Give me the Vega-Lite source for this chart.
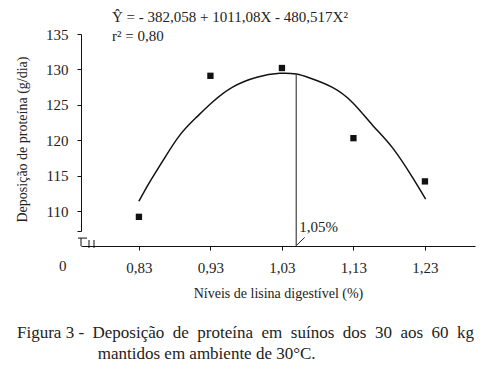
{
  "$schema": "https://vega.github.io/schema/vega-lite/v6.json",
  "width": 394,
  "height": 197,
  "autosize": "none",
  "padding": {"left": 81, "top": 34, "right": 9, "bottom": 145},
  "background": "white",
  "config": {
    "font": "Liberation Serif, Times New Roman, serif",
    "view": {"stroke": null},
    "text": {"font": "Liberation Serif, Times New Roman, serif"},
    "axis": {
      "grid": false,
      "domainColor": "#111",
      "tickColor": "#111",
      "labelColor": "#222",
      "titleColor": "#222",
      "labelFont": "Liberation Serif, Times New Roman, serif",
      "titleFont": "Liberation Serif, Times New Roman, serif",
      "labelFontSize": 15,
      "titleFontSize": 14,
      "titleFontWeight": "normal",
      "labelOverlap": false,
      "tickSize": 4
    }
  },
  "title": {
    "text": ["Figura 3 -  \u00a0Deposição \u00a0de \u00a0proteína \u00a0em \u00a0suínos \u00a0dos \u00a030 \u00a0aos \u00a060 \u00a0kg", "\u200b\u00a0\u00a0\u00a0\u00a0\u00a0\u00a0\u00a0\u00a0\u00a0\u00a0\u00a0\u00a0\u00a0\u00a0\u00a0\u00a0\u00a0\u00a0\u00a0mantidos em ambiente de 30°C."],
    "orient": "bottom",
    "anchor": "start",
    "frame": "group",
    "dx": -64,
    "offset": 25,
    "fontSize": 17,
    "fontWeight": "normal",
    "font": "Liberation Serif, Times New Roman, serif",
    "color": "#222",
    "lineHeight": 21
  },
  "datasets": {
    "ajuste": [
      {"lisina": 0.83, "deposicao": 111.4},
      {"lisina": 0.845, "deposicao": 114.1},
      {"lisina": 0.864, "deposicao": 117.2},
      {"lisina": 0.887, "deposicao": 120.7},
      {"lisina": 0.911, "deposicao": 123.3},
      {"lisina": 0.933, "deposicao": 125.4},
      {"lisina": 0.961, "deposicao": 127.5},
      {"lisina": 0.995, "deposicao": 128.9},
      {"lisina": 1.027, "deposicao": 129.45},
      {"lisina": 1.05, "deposicao": 129.35},
      {"lisina": 1.069, "deposicao": 128.8},
      {"lisina": 1.1, "deposicao": 127.5},
      {"lisina": 1.129, "deposicao": 125.3},
      {"lisina": 1.157, "deposicao": 122.1},
      {"lisina": 1.185, "deposicao": 118.9},
      {"lisina": 1.213, "deposicao": 114.7},
      {"lisina": 1.231, "deposicao": 111.7}
    ],
    "observado": [
      {"lisina": 0.83, "deposicao": 109.2},
      {"lisina": 0.93, "deposicao": 129.1},
      {"lisina": 1.03, "deposicao": 130.2},
      {"lisina": 1.13, "deposicao": 120.3},
      {"lisina": 1.23, "deposicao": 114.2}
    ],
    "otimo": [
      {"lisina": 1.05, "deposicao": 129.35, "rotulo": "1,05%"}
    ],
    "unico": [{}]
  },
  "layer": [
    {
      "data": {"name": "ajuste"},
      "mark": {"type": "line", "color": "#111", "strokeWidth": 1.5, "interpolate": "natural"},
      "encoding": {
        "x": {
          "field": "lisina",
          "type": "quantitative",
          "scale": {"domain": [0.749, 1.3], "nice": false, "zero": false},
          "axis": {
            "values": [0.83, 0.93, 1.03, 1.13, 1.23],
            "tickCount": 20,
            "labelExpr": "replace(format(datum.value, '.2f'), '.', ',')",
            "labelOverlap": false,
            "offset": 15,
            "labelPadding": 10,
            "title": "Níveis de lisina digestível (%)",
            "titlePadding": 11
          }
        },
        "y": {
          "field": "deposicao",
          "type": "quantitative",
          "scale": {"domain": [107.2, 135], "nice": false, "zero": false},
          "axis": {
            "values": [107.2, 110, 115, 120, 125, 130, 135],
            "tickCount": 20,
            "labelExpr": "datum.value < 109 ? '' : datum.label",
            "labelOverlap": false,
            "labelPadding": 9,
            "title": "Deposição de proteína (g/dia)",
            "titlePadding": 16,
            "titleY": 105
          }
        }
      }
    },
    {
      "data": {"name": "observado"},
      "mark": {"type": "square", "filled": true, "color": "#111", "size": 40, "opacity": 1},
      "encoding": {
        "x": {"field": "lisina", "type": "quantitative"},
        "y": {"field": "deposicao", "type": "quantitative"}
      }
    },
    {
      "data": {"name": "otimo"},
      "mark": {"type": "rule", "color": "#444", "strokeWidth": 1.2},
      "encoding": {
        "x": {"field": "lisina", "type": "quantitative"},
        "y": {"field": "deposicao", "type": "quantitative"},
        "y2": {"datum": 105.06}
      }
    },
    {
      "data": {"name": "otimo"},
      "mark": {"type": "text", "align": "left", "baseline": "middle", "fontSize": 15, "color": "#222", "dx": 3},
      "encoding": {
        "x": {"field": "lisina", "type": "quantitative"},
        "y": {"datum": 107.76},
        "text": {"field": "rotulo"}
      }
    },
    {
      "data": {"name": "unico"},
      "mark": {"type": "rule", "color": "#222", "strokeWidth": 1},
      "encoding": {
        "x": {"datum": 1.0507},
        "x2": {"datum": 1.0618},
        "y": {"datum": 105.2},
        "y2": {"datum": 106.3}
      }
    },
    {
      "data": {"name": "unico"},
      "mark": {"type": "text", "align": "left", "baseline": "middle", "fontSize": 15, "color": "#222"},
      "encoding": {
        "x": {"datum": 0.7924},
        "y": {"datum": 137.4},
        "text": {"value": "Ŷ = - 382,058 + 1011,08X - 480,517X²"}
      }
    },
    {
      "data": {"name": "unico"},
      "mark": {"type": "text", "align": "left", "baseline": "middle", "fontSize": 15, "color": "#222"},
      "encoding": {
        "x": {"datum": 0.7924},
        "y": {"datum": 134.7},
        "text": {"value": "r² = 0,80"}
      }
    },
    {
      "data": {"name": "unico"},
      "mark": {"type": "text", "align": "center", "baseline": "middle", "fontSize": 15, "color": "#222"},
      "encoding": {
        "x": {"datum": 0.7234},
        "y": {"datum": 102.26},
        "text": {"value": "0"}
      }
    },
    {
      "data": {"name": "unico"},
      "mark": {"type": "rule", "color": "#111", "strokeWidth": 1},
      "encoding": {
        "x": {"datum": 0.749},
        "y": {"datum": 106.2},
        "y2": {"datum": 105.06}
      }
    },
    {
      "data": {"name": "unico"},
      "mark": {"type": "rule", "color": "#111", "strokeWidth": 1},
      "encoding": {
        "x": {"datum": 0.7448},
        "x2": {"datum": 0.7574},
        "y": {"datum": 106.2}
      }
    },
    {
      "data": {"name": "unico"},
      "mark": {"type": "rule", "color": "#111", "strokeWidth": 1},
      "encoding": {
        "x": {"datum": 0.7602},
        "y": {"datum": 105.93},
        "y2": {"datum": 104.8}
      }
    },
    {
      "data": {"name": "unico"},
      "mark": {"type": "rule", "color": "#111", "strokeWidth": 1},
      "encoding": {
        "x": {"datum": 0.7672},
        "y": {"datum": 105.93},
        "y2": {"datum": 104.8}
      }
    }
  ]
}
